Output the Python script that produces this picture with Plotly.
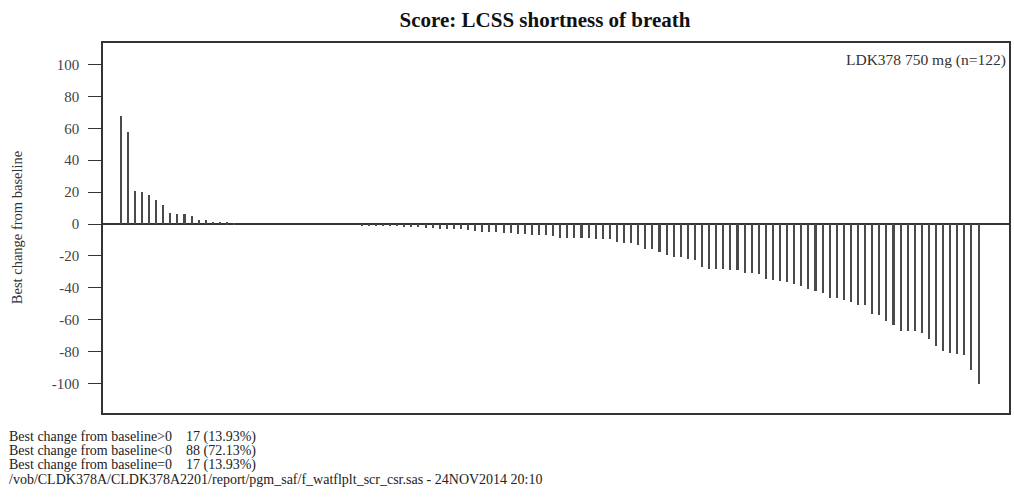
import plotly.graph_objects as go

# Best change from baseline per patient, sorted descending (n=122)
positive_changes = [68, 58, 21, 20, 18, 15, 12, 7, 6, 6, 5, 2.5, 2.5, 1.5, 1.5, 1, 0.5]
zero_changes = [0] * 17
negative_changes = [
    -1, -1, -1, -1, -1, -1, -2.1, -2.1, -2.1, -2.5, -2.5, -3.2, -3.2, -3.2, -3.2,
    -3.6, -4.2, -4.7, -4.7, -5.3, -5.7, -5.9,
    -6.4, -6.4, -7.0, -7.0, -7.0, -7.4, -8.5, -8.5, -8.5, -8.5, -8.7, -9.6, -9.6,
    -9.6, -11.0, -11.7, -12.1, -13.4, -15.6, -15.9, -17.6, -19.7,
    -20.6, -20.6, -21.9, -22.7, -27.0, -28.2, -28.2, -28.2, -29.1, -29.1, -30.4,
    -30.8, -31.2, -34.6, -35.0, -35.7, -36.5, -37.6, -38.6, -40.8, -41.8, -43.1,
    -46.7, -46.7, -47.8, -48.8, -51.0, -51.0, -56.3, -57.3, -60.5, -63.1, -66.9,
    -66.9, -66.9, -68.6, -72.2, -76.4, -79.6, -80.7, -81.7, -82.2, -91.3, -100,
]
changes = sorted(positive_changes + zero_changes + negative_changes, reverse=True)
patients = list(range(1, len(changes) + 1))

y_ticks = [100, 80, 60, 40, 20, 0, -20, -40, -60, -80, -100]

title_text = "Score: LCSS shortness of breath"
arm_label = "LDK378 750 mg (n=122)"
y_title = "Best change from baseline"
n_pos = sum(1 for v in changes if v > 0)
n_neg = sum(1 for v in changes if v < 0)
n_zero = sum(1 for v in changes if v == 0)
n_all = len(changes)
gap = "\u00a0" * 4
footnotes = [
    f"Best change from baseline>0{gap}{n_pos} ({100 * n_pos / n_all:.2f}%)",
    f"Best change from baseline<0{gap}{n_neg} ({100 * n_neg / n_all:.2f}%)",
    f"Best change from baseline=0{gap}{n_zero} ({100 * n_zero / n_all:.2f}%)",
    "/vob/CLDK378A/CLDK378A2201/report/pgm_saf/f_watflplt_scr_csr.sas - 24NOV2014 20:10",
]

FONT = "Liberation Serif, Times New Roman, serif"

fig = go.Figure()
fig.add_trace(go.Bar(
    x=patients,
    y=changes,
    width=0.22,
    marker=dict(color="#4a4a4a", line=dict(width=0)),
    showlegend=False,
))

fig.update_layout(
    width=1014,
    height=500,
    margin=dict(l=103, r=3, t=43, b=87),
    paper_bgcolor="white",
    plot_bgcolor="white",
    font=dict(family=FONT, color="#222"),
    title=dict(
        text=f"<b>{title_text}</b>",
        x=545 / 1014, xanchor="center",
        y=1 - 20 / 500, yanchor="middle",
        font=dict(size=21, family=FONT, color="#111"),
    ),
    bargap=0,
)

fig.update_xaxes(
    range=[-1.53, 126.26],
    showticklabels=False,
    ticks="",
    showgrid=False,
    zeroline=False,
    showline=True,
    linecolor="#333",
    linewidth=1.5,
    mirror=True,
)
fig.update_yaxes(
    range=[-118.5, 113.5],
    tickvals=y_ticks,
    ticktext=[str(v) for v in y_ticks],
    ticks="outside",
    ticklen=13,
    tickwidth=1.2,
    tickcolor="#333",
    ticklabelstandoff=6,
    tickfont=dict(size=15, family=FONT, color="#444"),
    showgrid=False,
    zeroline=True,
    zerolinecolor="#333",
    zerolinewidth=1.5,
    showline=True,
    linecolor="#333",
    linewidth=1.5,
    mirror=True,
)

# Arm label, upper right inside the frame
fig.add_annotation(
    text=arm_label, xref="paper", yref="paper",
    x=1, xanchor="right", xshift=-1,
    y=1 - 17 / 370, yanchor="middle",
    showarrow=False,
    font=dict(size=15.5, family=FONT, color="#333"),
)

# Rotated y-axis title
fig.add_annotation(
    text=y_title, xref="paper", yref="paper",
    x=(17 - 103) / 908, xanchor="center",
    y=(413 - 228) / 370, yanchor="middle",
    textangle=-90,
    showarrow=False,
    font=dict(size=14.5, family=FONT, color="#333"),
)

# Summary footnotes below the frame
for i, line in enumerate(footnotes):
    fig.add_annotation(
        text=line, xref="paper", yref="paper",
        x=(7 - 103) / 908, xanchor="left",
        y=-(437 + 14 * i - 413) / 370, yanchor="middle",
        showarrow=False,
        font=dict(size=14, family=FONT, color="#222"),
    )

fig.write_html("out.html")
